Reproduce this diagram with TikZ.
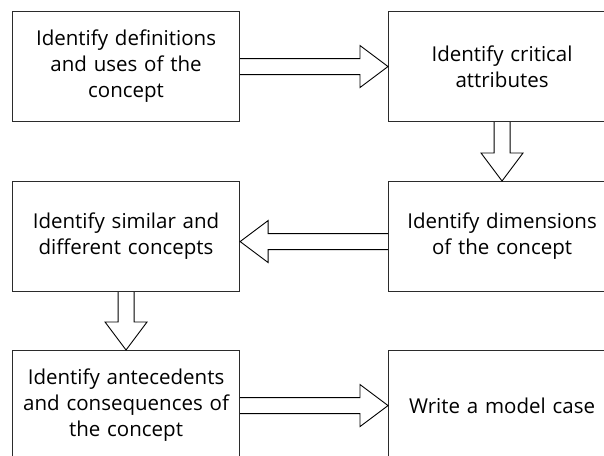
\documentclass[tikz,border=0pt]{standalone}
\usepackage{fontspec}
\setmainfont{Open Sans}
\usepackage{tikz}
\usetikzlibrary{calc,positioning}
\definecolor{ink}{HTML}{000000}
\definecolor{frame}{HTML}{2B2B2B}
\tikzset{
  box/.style={draw=frame, line width=1.1pt, anchor=north west, minimum width=227pt, minimum height=110pt,
    text width=215pt, align=center, inner sep=0pt, font=\fontsize{20.5}{26}\selectfont, text=ink},
  arrowline/.style={draw=ink, line width=0.9pt, line join=miter}
}
% hollow block arrow from #1 to #2
\newcommand{\blockarrow}[2]{%
  \coordinate (head) at ($(#2)!28pt!(#1)$);
  \draw[arrowline] ($(#1)!8pt!90:(#2)$) -- ($(head)!8pt!90:(#2)$) -- ($(head)!21pt!90:(#2)$) -- (#2)
    -- ($(head)!21pt!-90:(#2)$) -- ($(head)!8pt!-90:(#2)$) -- ($(#1)!8pt!-90:(#2)$);
}

\begin{document}
\begin{tikzpicture}[x=1pt,y=-1pt]
  \useasboundingbox (0,0) rectangle (604,455);
  \clip (0,0) rectangle (604,455);

  \node[box] (defs) at (12,11) {Identify definitions\\and uses of the\\concept};
  \node[box] (crit) at (388,11) {Identify critical\\attributes};
  \node[box] (sim) at (12,181) {Identify similar and\\different concepts};
  \node[box] (dims) at (388,181) {Identify dimensions\\of the concept};
  \node[box] (ante) at (12,350) {Identify antecedents\\and consequences of\\the concept};
  \node[box] (model) at (388,350) {Write a model case};

  \coordinate (dimsin) at ([yshift=-5pt]dims.west);
  \coordinate (simin) at ([yshift=-5pt]sim.east);

  \blockarrow{defs.east}{crit.west}
  \blockarrow{crit.south}{dims.north}
  \blockarrow{dimsin}{simin}
  \blockarrow{sim.south}{ante.north}
  \blockarrow{ante.east}{model.west}
\end{tikzpicture}
\end{document}
